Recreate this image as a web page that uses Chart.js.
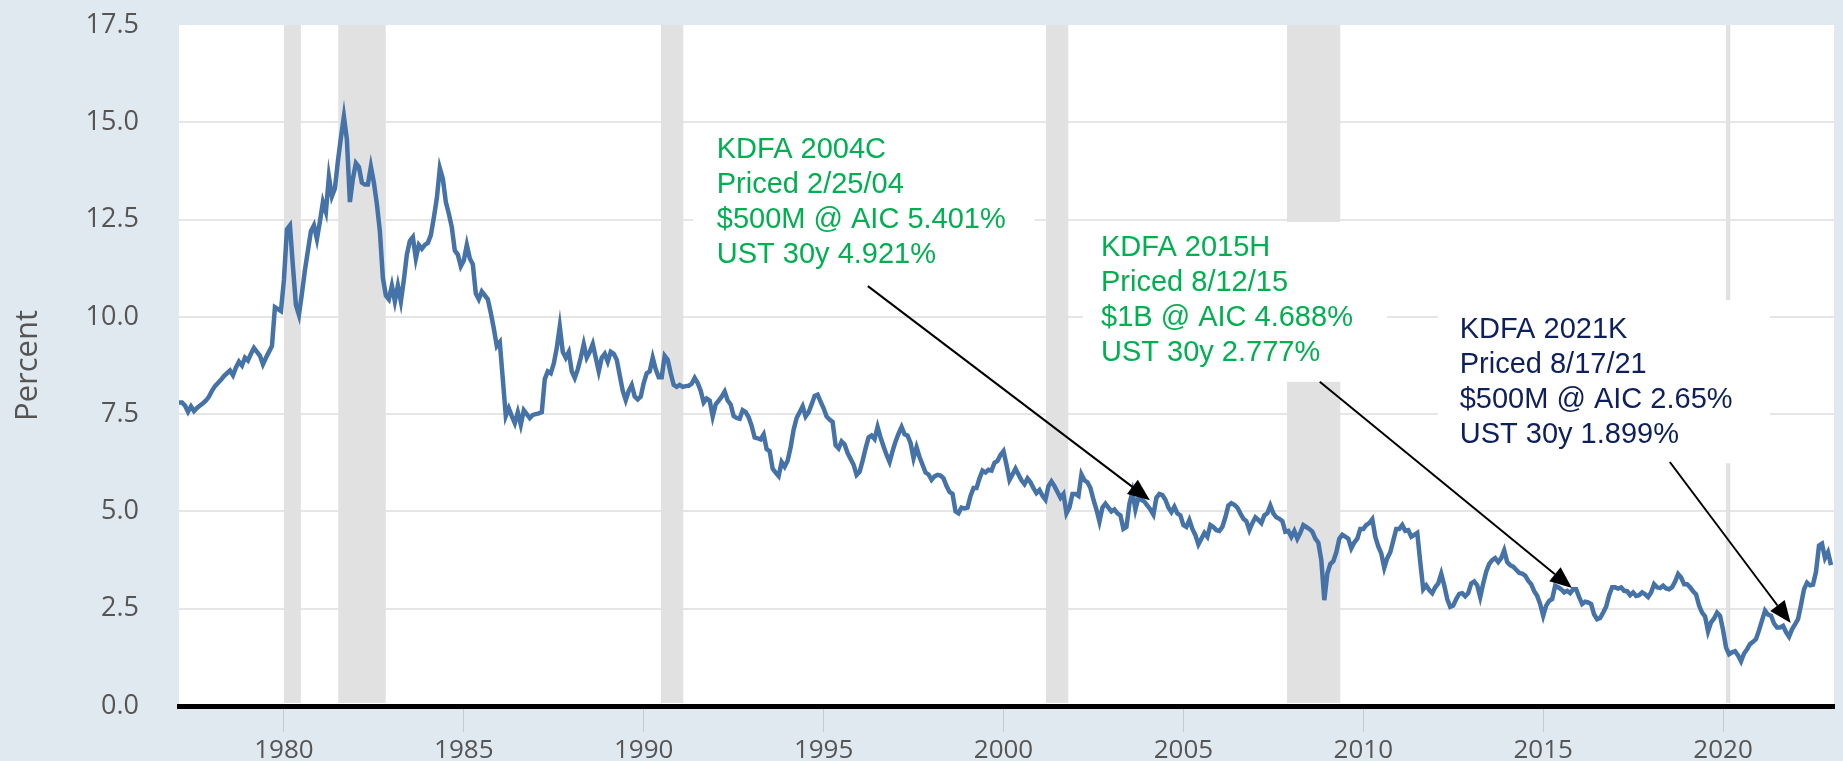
<!DOCTYPE html>
<html>
<head>
<title>30-Year Treasury Rate with KDFA pricings</title>
<script src="https://cdn.jsdelivr.net/npm/chart.js@4.4.0/dist/chart.umd.min.js"></script>
<style>
	body {margin: 0; background: #e1e9f0;}
	canvas {display: block;}
</style>
</head>
<body>
<canvas id="myChart" width="1843" height="761"></canvas>
<script>

// monthly 30y UST yield, percent
var firstYear = 1977;
var firstMonth = 2;

var rates70s = [
	7.80, 7.80, 7.72, 7.56, 7.70, 7.58, 7.66, 7.72, 7.78, 7.85, 7.95,
	8.10, 8.22, 8.30, 8.38, 8.48, 8.55, 8.62, 8.50, 8.70, 8.85, 8.75, 8.95,
	8.88, 9.05, 9.20, 9.10, 9.00, 8.78, 8.95, 9.10, 9.25, 10.25, 10.20, 10.15
];
var rates80s = [
	10.95, 12.25, 12.35, 11.30, 10.30, 10.05, 10.60, 11.20, 11.70, 12.20, 12.35, 12.00,
	12.45, 12.95, 12.70, 13.60, 13.10, 13.30, 14.00, 14.60, 15.15, 14.55, 12.95, 13.55,
	13.95, 13.85, 13.45, 13.40, 13.40, 13.86, 13.45, 12.90, 12.20, 11.00, 10.55, 10.45,
	10.80, 10.40, 10.80, 10.40, 10.95, 11.60, 11.95, 12.05, 11.50, 11.85, 11.75, 11.85,
	11.90, 12.10, 12.55, 13.05, 13.82, 13.55, 12.95, 12.65, 12.30, 11.70, 11.60, 11.30,
	11.45, 11.85, 11.50, 11.35, 10.60, 10.45, 10.65, 10.55, 10.45, 10.10, 9.70, 9.25,
	9.35, 8.40, 7.45, 7.65, 7.45, 7.27, 7.55, 7.23, 7.60, 7.50, 7.40, 7.48,
	7.50, 7.52, 7.55, 8.40, 8.60, 8.55, 8.80, 9.20, 9.75, 9.10, 8.95, 9.10,
	8.60, 8.43, 8.65, 8.95, 9.30, 8.95, 9.10, 9.30, 8.95, 8.60, 8.95, 9.05,
	8.85, 9.10, 9.05, 8.90, 8.50, 8.10, 7.86, 8.10, 8.25, 7.95, 7.88, 7.95
];
var rates90s = [
	8.30, 8.55, 8.60, 8.95, 8.65, 8.45, 8.45, 9.00, 8.90, 8.55, 8.25, 8.20,
	8.25, 8.20, 8.22, 8.23, 8.28, 8.43, 8.30, 8.10, 7.80, 7.90, 7.85, 7.44,
	7.75, 7.85, 7.95, 8.08, 7.85, 7.75, 7.45, 7.40, 7.38, 7.60, 7.55, 7.42,
	7.20, 6.90, 6.88, 6.85, 6.98, 6.60, 6.55, 6.10, 6.00, 5.91, 6.27, 6.15,
	6.30, 6.65, 7.10, 7.40, 7.55, 7.70, 7.44, 7.55, 7.75, 7.97, 8.00, 7.82,
	7.65, 7.44, 7.36, 7.30, 6.70, 6.62, 6.80, 6.72, 6.50, 6.35, 6.20, 5.94,
	6.02, 6.30, 6.62, 6.90, 6.95, 6.86, 7.17, 6.90, 6.67, 6.45, 6.27, 6.55,
	6.80, 7.00, 7.17, 6.98, 6.95, 6.76, 6.37, 6.65, 6.40, 6.20, 6.00, 5.95,
	5.81, 5.90, 5.94, 5.92, 5.85, 5.65, 5.50, 5.45, 5.00, 4.95, 5.10, 5.08,
	5.10, 5.40, 5.60, 5.60, 5.85, 6.05, 6.00, 6.07, 6.05, 6.25, 6.30, 6.45
];
var rates00s = [
	6.55, 6.20, 5.81, 5.95, 6.10, 5.95, 5.80, 5.70, 5.85, 5.75, 5.60, 5.47,
	5.55, 5.40, 5.30, 5.65, 5.77, 5.65, 5.50, 5.35, 5.45, 4.95, 5.10, 5.45,
	5.45, 5.40, 5.95, 5.80, 5.75, 5.60, 5.30, 5.05, 4.74, 5.10, 5.20, 5.10,
	5.00, 5.05, 4.95, 4.90, 4.55, 4.60, 5.20, 5.50, 5.05, 5.35, 5.30, 5.25,
	5.15, 5.05, 4.92, 5.35, 5.45, 5.42, 5.30, 5.10, 4.98, 5.12, 4.95, 4.90,
	4.65, 4.60, 4.78, 4.55, 4.39, 4.15, 4.30, 4.45, 4.35, 4.65, 4.60, 4.52,
	4.50, 4.60, 4.85, 5.15, 5.21, 5.17, 5.10, 4.95, 4.81, 4.75, 4.52, 4.70,
	4.85, 4.78, 4.70, 4.90, 4.95, 5.15, 4.95, 4.85, 4.81, 4.75, 4.48, 4.50,
	4.35, 4.50, 4.30, 4.45, 4.65, 4.60, 4.55, 4.48, 4.30, 4.20, 3.75, 2.72,
	3.40, 3.65, 3.72, 3.95, 4.30, 4.40, 4.35, 4.30, 4.05, 4.20, 4.30, 4.55
];
var rates10s = [
	4.55, 4.65, 4.70, 4.80, 4.35, 4.10, 3.92, 3.55, 3.80, 3.95, 4.25, 4.55,
	4.55, 4.65, 4.50, 4.52, 4.35, 4.40, 4.45, 3.70, 3.00, 3.10, 2.98, 2.90,
	3.05, 3.15, 3.40, 3.10, 2.75, 2.55, 2.58, 2.75, 2.88, 2.90, 2.82, 2.90,
	3.15, 3.20, 3.10, 2.80, 3.15, 3.45, 3.65, 3.75, 3.80, 3.70, 3.80, 4.00,
	3.70, 3.62, 3.58, 3.50, 3.42, 3.40, 3.35, 3.22, 3.13, 2.95, 2.83, 2.62,
	2.32, 2.58, 2.70, 2.75, 3.09, 3.05, 3.00, 2.92, 2.96, 2.90, 3.00, 3.00,
	2.80, 2.62, 2.68, 2.66, 2.62, 2.35, 2.23, 2.26, 2.40, 2.55, 2.85, 3.05,
	3.05, 3.02, 3.05, 2.96, 2.95, 2.85, 2.92, 2.83, 2.85, 2.92, 2.87, 2.80,
	2.92, 3.13, 3.05, 3.03, 3.09, 3.02, 3.00, 3.05, 3.20, 3.39, 3.30, 3.13,
	3.13, 3.05, 2.95, 2.87, 2.58, 2.40, 2.30, 1.92, 2.15, 2.25, 2.40, 2.32
];
var rates20s = [
	1.95, 1.50, 1.33, 1.38, 1.41, 1.30, 1.15, 1.35, 1.46, 1.59, 1.65, 1.72,
	1.95, 2.20, 2.45, 2.35, 2.32, 2.12, 2.02, 2.02, 2.06, 1.90, 1.78, 1.97,
	2.10, 2.23, 2.60, 3.00, 3.17, 3.10, 3.12, 3.45, 4.12, 4.17, 3.80, 3.95,
	3.62
];

var tickYears = [1980, 1985, 1990, 1995, 2000, 2005, 2010, 2015, 2020];
var yTicks = [0, 2.5, 5, 7.5, 10, 12.5, 15, 17.5];

// shaded recessions (decimal years)
var recessionStart = [1980.0, 1981.51, 1990.48, 2001.18, 2007.88, 2020.08];
var recessionEnd = [1980.47, 1982.83, 1991.1, 2001.8, 2009.36, 2020.2];

// the three callouts, placed in data units (year, percent)
var noteLines = [
	["KDFA 2004C", "Priced 2/25/04", "$500M @ AIC 5.401%", "UST 30y 4.921%"],
	["KDFA 2015H", "Priced 8/12/15", "$1B @ AIC 4.688%", "UST 30y 2.777%"],
	["KDFA 2021K", "Priced 8/17/21", "$500M @ AIC 2.65%", "UST 30y 1.899%"]
];
var noteColors = ["#00b050", "#00b050", "#0e1f5e"];
var noteTextAt = [[1992.03, 14.29], [2002.71, 11.77], [2012.68, 9.66]];
var noteBoxFrom = [[1991.37, 14.85], [2002.21, 12.44], [2012.07, 10.43]];
var noteBoxTo = [[2000.87, 10.64], [2010.66, 8.33], [2021.3, 6.24]];
var arrowFrom = [[1996.23, 10.79], [2008.79, 8.33], [2018.52, 6.27]];
var arrowTo = [[2004.07, 5.29], [2015.8, 3.03], [2021.88, 2.13]];

var rates = [].concat(rates70s, rates80s, rates90s, rates00s, rates10s, rates20s);
var points = rates.map(function(v, i) {
	return {x: firstYear + (firstMonth - 1 + i) / 12, y: v};
});

var extras = {
	id: 'extras',
	beforeDraw: function(chart) {
		var ctx = chart.ctx, a = chart.chartArea;
		ctx.save();
		ctx.fillStyle = '#e1e9f0';
		ctx.fillRect(0, 0, chart.width, chart.height);
		ctx.fillStyle = '#ffffff';
		ctx.fillRect(a.left, a.top, a.right - a.left, a.bottom - a.top);
		ctx.restore();
	},
	beforeDatasetsDraw: function(chart) {
		var ctx = chart.ctx, a = chart.chartArea, xs = chart.scales.x;
		ctx.save();
		ctx.fillStyle = '#e1e1e1';
		for (var i = 0; i < recessionStart.length; i++) {
			var x0 = xs.getPixelForValue(recessionStart[i]);
			var x1 = xs.getPixelForValue(recessionEnd[i]);
			ctx.fillRect(x0, a.top, x1 - x0, a.bottom - a.top - 3);
		}
		ctx.restore();
	},
	afterDatasetsDraw: function(chart) {
		var ctx = chart.ctx, xs = chart.scales.x, ys = chart.scales.y;
		ctx.save();
		ctx.fillStyle = '#ffffff';
		for (var i = 0; i < noteLines.length; i++) {
			var bx0 = xs.getPixelForValue(noteBoxFrom[i][0]), by0 = ys.getPixelForValue(noteBoxFrom[i][1]);
			var bx1 = xs.getPixelForValue(noteBoxTo[i][0]), by1 = ys.getPixelForValue(noteBoxTo[i][1]);
			ctx.fillRect(bx0, by0, bx1 - bx0, by1 - by0);
		}
		ctx.font = '29px "Liberation Sans", Arial, sans-serif';
		ctx.textAlign = 'left';
		ctx.textBaseline = 'middle';
		for (var i = 0; i < noteLines.length; i++) {
			var tx = xs.getPixelForValue(noteTextAt[i][0]);
			var ty = ys.getPixelForValue(noteTextAt[i][1]);
			ctx.fillStyle = noteColors[i];
			for (var j = 0; j < noteLines[i].length; j++) {
				ctx.fillText(noteLines[i][j], tx, ty + j * 35);
			}
		}
		ctx.strokeStyle = '#000000';
		ctx.fillStyle = '#000000';
		ctx.lineWidth = 2;
		for (var i = 0; i < arrowFrom.length; i++) {
			var x0 = xs.getPixelForValue(arrowFrom[i][0]), y0 = ys.getPixelForValue(arrowFrom[i][1]);
			var x1 = xs.getPixelForValue(arrowTo[i][0]), y1 = ys.getPixelForValue(arrowTo[i][1]);
			var ang = Math.atan2(y1 - y0, x1 - x0);
			var len = 22, half = 9;
			var bx = x1 - len * Math.cos(ang), by = y1 - len * Math.sin(ang);
			ctx.beginPath();
			ctx.moveTo(x0, y0);
			ctx.lineTo(bx, by);
			ctx.stroke();
			ctx.beginPath();
			ctx.moveTo(x1, y1);
			ctx.lineTo(bx + half * Math.sin(ang), by - half * Math.cos(ang));
			ctx.lineTo(bx - half * Math.sin(ang), by + half * Math.cos(ang));
			ctx.closePath();
			ctx.fill();
		}
		ctx.restore();
	}
};

var ctx = document.getElementById('myChart').getContext('2d');
var chart = new Chart(ctx, {
	type: 'line',
	data: {
		datasets: [{
			label: '30-Year Treasury',
			data: points,
			borderColor: '#4572a7',
			borderWidth: 4.5,
			pointRadius: 0,
			tension: 0,
			fill: false
		}]
	},
	options: {
		responsive: false,
		animation: false,
		layout: {padding: {top: 25, right: 9, left: 0, bottom: 0}},
		plugins: {legend: {display: false}, tooltip: {enabled: false}},
		scales: {
			x: {
				type: 'linear',
				min: firstYear + (firstMonth - 1) / 12,
				max: 2023 + 1 / 12,
				afterBuildTicks: function(scale) {
					scale.ticks = tickYears.map(function(v) { return {value: v}; });
				},
				afterFit: function(scale) { scale.height = 55; },
				grid: {drawOnChartArea: false, drawTicks: true, tickLength: 26, tickColor: '#c3ccd6', lineWidth: 1},
				border: {display: true, color: '#000000', width: 5},
				ticks: {
					padding: 3,
					color: '#555555',
					font: {family: '"Open Sans", sans-serif', size: 26},
					maxRotation: 0,
					callback: function(v) { return String(v); }
				}
			},
			y: {
				min: 0,
				max: 17.5,
				afterBuildTicks: function(scale) {
					scale.ticks = yTicks.map(function(v) { return {value: v}; });
				},
				afterFit: function(scale) { scale.width = 179; },
				grid: {
					drawTicks: true,
					tickLength: 40,
					tickColor: 'rgba(0,0,0,0)',
					lineWidth: 2,
					color: function(c) {
						return (c.tick && (c.tick.value === 0 || c.tick.value === 17.5)) ? 'rgba(0,0,0,0)' : '#e6e6e6';
					}
				},
				border: {display: false},
				ticks: {
					padding: 0,
					color: '#555555',
					font: {family: '"Open Sans", sans-serif', size: 27},
					callback: function(v) { return v.toFixed(1); }
				},
				title: {
					display: true,
					text: 'Percent',
					color: '#555555',
					padding: {top: 10, bottom: 0},
					font: {family: '"Open Sans", sans-serif', size: 31}
				}
			}
		}
	},
	plugins: [extras]
});
</script>
</body>
</html>
